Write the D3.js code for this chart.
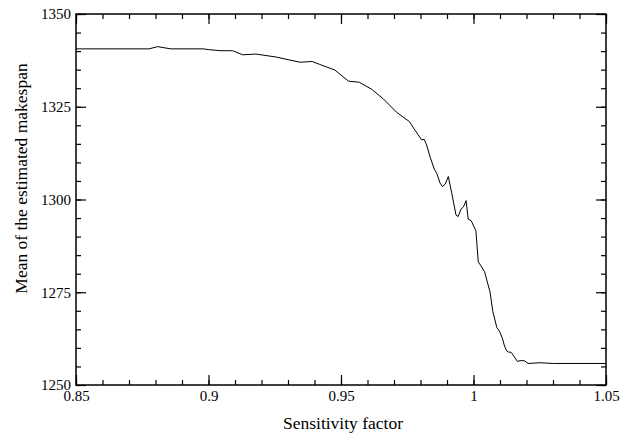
<!DOCTYPE html>
<html>
<head>
<meta charset="utf-8">
<script src="https://cdn.jsdelivr.net/npm/d3@7"></script>
<style>
  body { margin: 0; background: #fff; }
</style>
</head>
<body>
<svg id="chart" width="631" height="435"></svg>
<script>
// sensitivity factor (x) and mean of the estimated makespan (y)
const factor = [0.85, 0.8775, 0.8808, 0.8858, 0.898, 0.900, 0.9047, 0.9091, 0.9129, 0.9179,
    0.9255, 0.9345, 0.9391, 0.942, 0.9477, 0.9528, 0.9569, 0.9616, 0.966, 0.971,
    0.9758, 0.9779, 0.9804, 0.9814, 0.9823, 0.9836, 0.9852, 0.9861, 0.9874, 0.9883,
    0.9893, 0.9905, 0.9918, 0.9934, 0.9942, 0.9953, 0.9962, 0.9972, 0.998, 0.9991,
    1.0009, 1.0018, 1.0031, 1.0042, 1.0052, 1.0062, 1.0073, 1.0088, 1.0098, 1.0109,
    1.0117, 1.0125, 1.0131, 1.0142, 1.0155, 1.0165, 1.0182, 1.0193, 1.0206, 1.0251,
    1.0301, 1.05];
const makespan = [1340.6, 1340.6, 1341.2, 1340.6, 1340.6, 1340.4, 1340.1, 1340.1, 1339.0, 1339.2,
    1338.4, 1337.0, 1337.2, 1336.4, 1334.9, 1331.9, 1331.6, 1329.7, 1327.1, 1323.5,
    1321.0, 1318.7, 1316.1, 1316.2, 1314.7, 1311.5, 1308.2, 1307.1, 1304.4, 1303.5,
    1304.1, 1306.2, 1301.7, 1295.8, 1295.4, 1297.4, 1298.0, 1299.7, 1294.7, 1294.3,
    1291.6, 1283.2, 1281.8, 1280.5, 1277.8, 1275.2, 1269.8, 1265.5, 1264.5, 1262.6,
    1260.5, 1259.2, 1258.9, 1258.8, 1257.5, 1256.4, 1256.6, 1256.5, 1255.8, 1256.0,
    1255.8, 1255.8];

const xMajor = [0.85, 0.9, 0.95, 1, 1.05];
const yMajor = [1250, 1275, 1300, 1325, 1350];
const xMinor = d3.range(0, 21).map(i => 0.85 + i * 0.01);
const yMinor = d3.range(0, 21).map(i => 1250 + i * 5);

const serif = "Liberation Serif";

const svg = d3.select("#chart");
const margin = { top: 14, right: 25, bottom: 50, left: 76 };
const width = 631 - margin.left - margin.right;
const height = 435 - margin.top - margin.bottom;

const g = svg.append("g")
    .attr("transform", `translate(${margin.left},${margin.top})`);

const x = d3.scaleLinear().domain([0.85, 1.05]).range([0, width]);
const y = d3.scaleLinear().domain([1250, 1350]).range([height, 0]);

const fmt = d => String(+d.toFixed(2));

//ticks on all four sides, pointing inward
function ticks(axis, vals, size, fmtFn) {
    return axis.tickValues(vals).tickSizeInner(-size).tickSizeOuter(0).tickFormat(fmtFn);
}

const blank = () => "";

g.append("g").attr("transform", `translate(0,${height})`)
    .call(ticks(d3.axisBottom(x), xMinor, 5, blank));
g.append("g")
    .call(ticks(d3.axisTop(x), xMinor, 5, blank));
g.append("g")
    .call(ticks(d3.axisLeft(y), yMinor, 5, blank));
g.append("g").attr("transform", `translate(${width},0)`)
    .call(ticks(d3.axisRight(y), yMinor, 5, blank));

//major ticks with labels
const xAxis = g.append("g").attr("transform", `translate(0,${height})`)
    .call(ticks(d3.axisBottom(x), xMajor, 10, fmt));
xAxis.selectAll("text").attr("y", 5).attr("dy", "0.71em");
g.append("g").call(ticks(d3.axisTop(x), xMajor, 10, blank));

const yAxis = g.append("g")
    .call(ticks(d3.axisLeft(y), yMajor, 10, d3.format("d")));
yAxis.selectAll("text").attr("x", -5);
g.append("g").attr("transform", `translate(${width},0)`)
    .call(ticks(d3.axisRight(y), yMajor, 10, blank));

g.selectAll(".domain").remove();
g.selectAll(".tick line").attr("stroke", "#000").attr("stroke-width", 1.2);
g.selectAll(".tick text")
    .attr("fill", "#000")
    .attr("font-family", serif)
    .attr("font-size", 15);

//frame
g.append("rect")
    .attr("width", width)
    .attr("height", height)
    .attr("fill", "none")
    .attr("stroke", "#000")
    .attr("stroke-width", 1.5);

//curve
const line = d3.line()
    .x((d, i) => x(factor[i]))
    .y(d => y(d));

g.append("path")
    .datum(makespan)
    .attr("fill", "none")
    .attr("stroke", "#000")
    .attr("stroke-width", 1)
    .attr("d", line);

//axis titles
svg.append("text")
    .attr("x", 343)
    .attr("y", 429)
    .attr("text-anchor", "middle")
    .attr("font-family", serif)
    .attr("font-size", 17.5)
    .text("Sensitivity factor");

svg.append("text")
    .attr("transform", "rotate(-90)")
    .attr("x", -178.5)
    .attr("y", 27)
    .attr("text-anchor", "middle")
    .attr("font-family", serif)
    .attr("font-size", 17.5)
    .text("Mean of the estimated makespan");
</script>
</body>
</html>
